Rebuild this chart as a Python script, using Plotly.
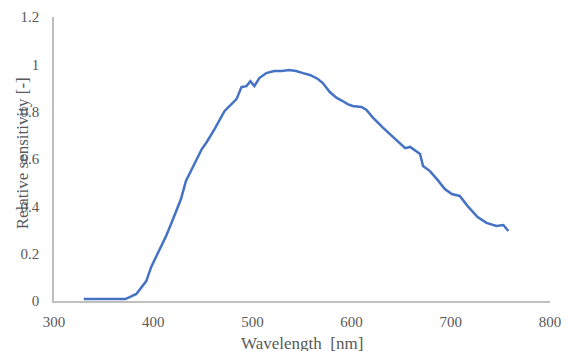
import plotly.graph_objects as go

wavelength = [330, 372, 383, 388, 393, 398, 403, 408, 413, 418, 423, 428, 433, 439, 444, 449,
              454, 462, 472, 477, 484, 489, 494, 498, 502, 507, 514, 522, 530, 537, 544, 551,
              558, 566, 571, 578, 585, 591, 596, 601, 610, 615, 621, 631, 641, 654, 659, 664,
              669, 672, 679, 686, 694, 701, 709, 717, 727, 736, 746, 753, 758]
sensitivity = [0.008, 0.008, 0.03, 0.059, 0.084, 0.144, 0.186, 0.232, 0.275, 0.325, 0.38, 0.431,
               0.507, 0.558, 0.6, 0.642, 0.672, 0.727, 0.803, 0.824, 0.853, 0.904, 0.908, 0.929,
               0.908, 0.942, 0.963, 0.972, 0.972, 0.976, 0.972, 0.963, 0.955, 0.938, 0.921, 0.883,
               0.858, 0.845, 0.832, 0.824, 0.82, 0.807, 0.777, 0.735, 0.697, 0.646, 0.651, 0.634,
               0.621, 0.57, 0.549, 0.515, 0.473, 0.452, 0.444, 0.401, 0.355, 0.33, 0.317, 0.321,
               0.296]

x_title = "Wavelength\u00a0 [nm]"
y_title = "Relative sensitivity [-]"

font_family = "Liberation Serif"
text_color = "#595959"
axis_color = "#BFBFBF"

fig = go.Figure()
fig.add_trace(go.Scatter(x=wavelength, y=sensitivity, mode="lines",
                         line=dict(color="#4472C4", width=2.5), showlegend=False))

# the page body adds an 8px offset, so the figure is sized to end at the window edge
fig.update_layout(
    width=561, height=343,
    margin=dict(l=46, r=19, t=9, b=50, autoexpand=False),
    paper_bgcolor="white", plot_bgcolor="white",
    font=dict(family=font_family, color=text_color, size=15),
    xaxis=dict(range=[300, 800], dtick=100, tick0=300, showgrid=False, zeroline=False,
               showline=True, linecolor=axis_color, linewidth=1.5, ticks="",
               automargin=False, ticklabelstandoff=6,
               tickfont=dict(size=15, family=font_family, color=text_color)),
    yaxis=dict(range=[0, 1.2], dtick=0.2, tick0=0, showgrid=False, zeroline=False,
               showline=True, linecolor=axis_color, linewidth=1.5, ticks="",
               automargin=False, ticklabelstandoff=10,
               tickfont=dict(size=15, family=font_family, color=text_color)),
    annotations=[
        dict(text=y_title, textangle=-90, xref="paper", yref="paper",
             x=0, y=0.52, xshift=-32, xanchor="center", yanchor="middle",
             showarrow=False, font=dict(size=17, family=font_family, color=text_color)),
        dict(text=x_title, xref="paper", yref="paper",
             x=0.5, y=0, yshift=-42, xanchor="center", yanchor="middle",
             showarrow=False, font=dict(size=17, family=font_family, color=text_color)),
    ],
)

fig.write_html("out.html")
